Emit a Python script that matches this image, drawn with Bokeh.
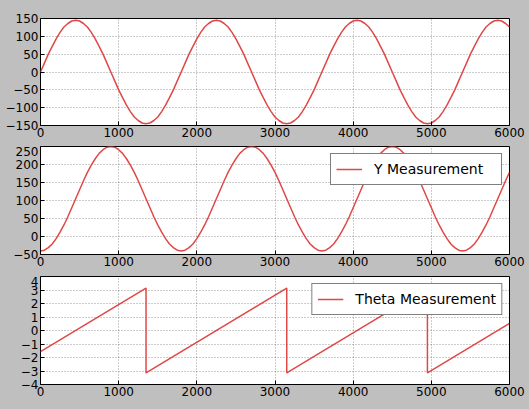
from bokeh.plotting import figure
from bokeh.layouts import column
from bokeh.models import Range1d, FixedTicker, Label, Legend, LegendItem
from bokeh.embed import file_html
from bokeh.resources import INLINE

# ---- data (x step 50) ----
x_vals = list(range(0, 6001, 50))

# top panel ("Y" x-label)
period_a = [0, 25, 50, 72, 93, 111, 126, 136, 143, 145, 143, 136, 126, 111, 93, 72, 50, 25,
            0, -25, -50, -72, -93, -111, -126, -136, -143, -145, -143, -136, -126, -111, -93, -72, -50, -25]
top_vals = (period_a * 4)[:121]

# middle panel: Y Measurement
period_b = [-40, -38, -31, -21, -6, 12, 32, 55, 80, 105, 130, 155, 178, 198, 216, 231, 241, 248,
            250, 248, 241, 231, 216, 198, 178, 155, 130, 105, 80, 55, 32, 12, -6, -21, -31, -38]
y_vals = (period_b * 4)[:121]

# bottom panel: Theta Measurement (sawtooth break points)
theta_x = [0, 1350, 1350, 3150, 3150, 4950, 4950, 6000]
theta_y = [-1.57, 3.14, -3.14, 3.14, -3.14, 3.14, -3.14, 0.52]

x_ticks = [0, 1000, 2000, 3000, 4000, 5000, 6000]
y1_ticks = [-150, -100, -50, 0, 50, 100, 150]
y2_ticks = [-50, 0, 50, 100, 150, 200, 250]
y3_ticks = [-4, -3, -2, -1, 0, 1, 2, 3, 4]

LINE = "#e04848"
GRAY = "#bfbfbf"
FONT = "DejaVu Sans"
W = 529


def make_fig(height, yr, yticks, top_border, bottom_border):
    p = figure(width=W, height=height, output_backend="svg", toolbar_location=None,
               x_range=Range1d(0, 6000), y_range=Range1d(*yr))
    p.min_border_left = 40
    p.min_border_right = 20
    p.min_border_top = top_border
    p.min_border_bottom = bottom_border
    p.border_fill_color = GRAY
    p.background_fill_color = "white"
    p.outline_line_color = "black"
    p.outline_line_width = 1
    p.xaxis.ticker = FixedTicker(ticks=x_ticks)
    p.yaxis.ticker = FixedTicker(ticks=yticks)
    p.yaxis.major_label_overrides = {t: (("\u2212" + str(abs(t))) if t < 0 else str(t)) for t in yticks}
    for ax in (p.xaxis, p.yaxis):
        ax.axis_line_color = None
        ax.major_tick_in = 4
        ax.major_tick_out = 0
        ax.major_tick_line_color = "black"
        ax.minor_tick_line_color = None
        ax.major_label_text_font = FONT
        ax.major_label_text_font_size = "12px"
        ax.major_label_text_color = "black"
        ax.major_label_standoff = 2
    p.grid.grid_line_color = "black"
    p.grid.grid_line_alpha = 0.4
    p.grid.grid_line_dash = "1 2"
    p.grid.grid_line_width = 1
    return p


def xlabel(p, text, dy):
    p.add_layout(Label(x=3000, y=dy, x_units="data", y_units="screen", text=text,
                       text_align="center", text_baseline="top", text_font=FONT,
                       text_font_size="12px", text_color="black"))


def add_legend(p, renderer, text):
    leg = Legend(items=[LegendItem(label=text, renderers=[renderer])], location="top_right")
    leg.label_text_font = FONT
    leg.label_text_font_size = "14px"
    leg.label_text_color = "black"
    leg.border_line_color = "black"
    leg.border_line_width = 1
    leg.background_fill_color = "white"
    leg.background_fill_alpha = 1
    leg.padding = 5
    leg.margin = 7
    leg.glyph_width = 26
    leg.label_standoff = 12
    leg.label_width = 122
    leg.spacing = 0
    p.add_layout(leg, "center")


p1 = make_fig(146, (-150, 150), y1_ticks, 18, 21)
p1.line(x_vals, top_vals, line_color=LINE, line_width=1.5)
xlabel(p1, "Y", -15)

p2 = make_fig(130, (-50, 250), y2_ticks, 0, 22)
r2 = p2.line(x_vals, y_vals, line_color=LINE, line_width=1.5)
add_legend(p2, r2, "Y Measurement")
xlabel(p2, "Y", -17)

p3 = make_fig(133, (-4, 4), y3_ticks, 0, 25)
r3 = p3.line(theta_x, theta_y, line_color=LINE, line_width=1.5)
add_legend(p3, r3, "Theta Measurement")
xlabel(p3, "Theta", -14)

layout = column(p1, p2, p3, spacing=0)
layout.styles = {"background-color": GRAY}
open("out.html", "w").write(file_html(layout, INLINE))
